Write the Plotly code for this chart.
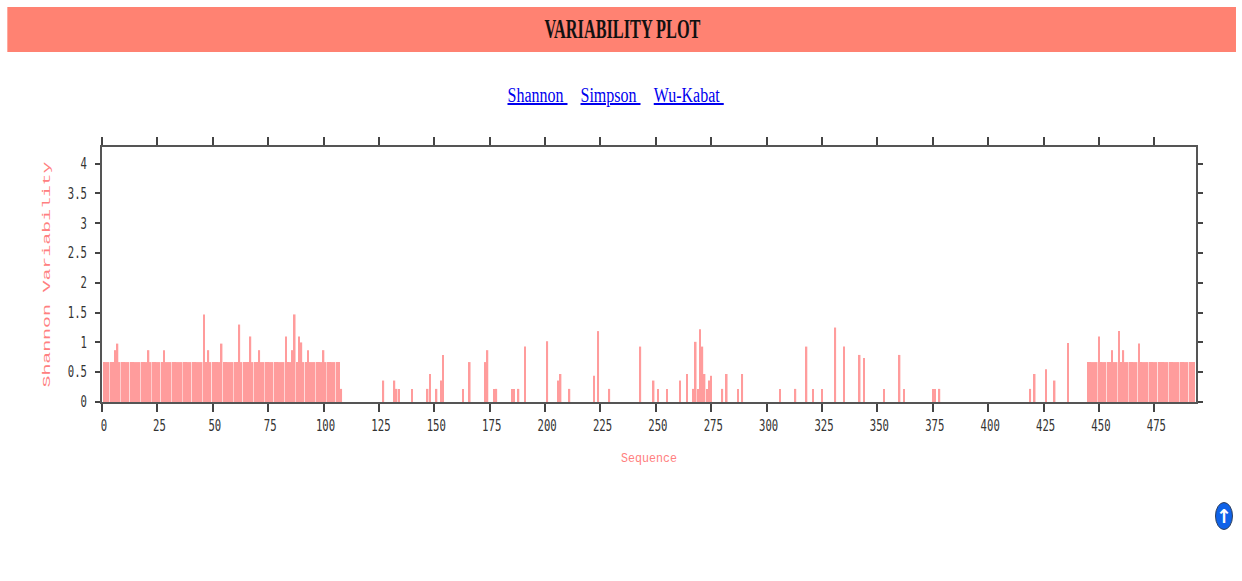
import plotly.graph_objects as go

W, H = 1242, 581
L, R, T, B = 101.7, 1196.0, 147.0, 402.0

sequence = [
    1, 2, 3, 4, 5, 6, 7, 8, 9, 10, 11, 12, 13, 14, 15, 16, 17, 18, 19, 20,
    21, 22, 23, 24, 25, 26, 27, 28, 29, 30, 31, 32, 33, 34, 35, 36, 37, 38, 39, 40,
    41, 42, 43, 44, 45, 46, 47, 48, 49, 50, 51, 52, 53, 54, 55, 56, 57, 58, 59, 60,
    61, 62, 63, 64, 65, 66, 67, 68, 69, 70, 71, 72, 73, 74, 75, 76, 77, 78, 79, 80,
    81, 82, 83, 84, 85, 86, 87, 88, 89, 90, 91, 92, 93, 94, 95, 96, 97, 98, 99, 100,
    101, 102, 103, 104, 105, 106, 107, 108,
    127, 132, 133, 134, 140, 147, 148, 151, 153, 154, 163, 166, 173, 174, 177, 178,
    185, 186, 188, 191, 201, 206, 207, 211, 222, 224, 229,
    243, 249, 251, 255, 261, 264, 267, 268, 269, 270, 271, 272, 273, 274, 275,
    280, 282, 287, 289, 306, 313, 318, 321, 325, 331, 335, 342, 344, 353, 360, 362,
    375, 376, 378, 419, 421, 426, 430, 436,
    445, 446, 447, 448, 449, 450, 451, 452, 453, 454, 455, 456, 457, 458, 459, 460,
    461, 462, 463, 464, 465, 466, 467, 468, 469, 470, 471, 472, 473, 474, 475, 476,
    477, 478, 479, 480, 481, 482, 483, 484, 485, 486, 487, 488, 489, 490, 491, 492, 493,
]
shannon = [
    .67, .67, .67, .67, .67, .87, .98, .67, .67, .67, .67, .67, .67, .67, .67, .67, .67, .67, .67, .67,
    .87, .67, .67, .67, .67, .67, .67, .87, .67, .67, .67, .67, .67, .67, .67, .67, .67, .67, .67, .67,
    .67, .67, .67, .67, .67, 1.47, .67, .87, .67, .67, .67, .67, .67, .98, .67, .67, .67, .67, .67, .67,
    .67, 1.3, .67, .67, .67, .67, 1.1, .67, .67, .67, .87, .67, .67, .67, .67, .67, .67, .67, .67, .67,
    .67, .67, 1.1, .67, .67, .87, 1.47, .67, 1.1, 1.0, .67, .67, .87, .67, .67, .67, .67, .67, .67, .87,
    .67, .67, .67, .67, .67, .67, .67, .22,
    .36, .36, .22, .22, .22, .22, .47, .22, .36, .79, .22, .67, .67, .87, .22, .22,
    .22, .22, .22, .93, 1.02, .36, .47, .22, .44, 1.19, .22,
    .93, .36, .22, .22, .36, .47, .22, 1.01, .22, 1.22, .93, .47, .22, .36, .44,
    .22, .47, .22, .47, .22, .22, .93, .22, .22, 1.25, .93, .79, .74, .22, .79, .22,
    .22, .22, .22, .22, .47, .55, .36, .99,
    .67, .67, .67, .67, .67, 1.1, .67, .67, .67, .67, .67, .87, .67, .67, 1.19, .67,
    .87, .67, .67, .67, .67, .67, .67, .98, .67, .67, .67, .67, .67, .67, .67, .67,
    .67, .67, .67, .67, .67, .67, .67, .67, .67, .67, .67, .67, .67, .67, .67, .67, .67,
]
x_ticks = [0, 25, 50, 75, 100, 125, 150, 175, 200, 225, 250, 275, 300, 325, 350, 375, 400, 425, 450, 475]
y_ticks = [0, 0.5, 1, 1.5, 2, 2.5, 3, 3.5, 4]
y_tick_text = ["0", "0.5", "1", "1.5", "2", "2.5", "3", "3.5", "4"]


def px(x):
    return (x - L) / (R - L)


def py(y):
    return (B - y) / (B - T)


fig = go.Figure(go.Bar(x=sequence, y=shannon, width=0.7, marker=dict(color="#ff9c9c", line=dict(width=0))))

SERIF = "Liberation Serif"
links = [("Shannon\u00a0", 537), ("Simpson\u00a0", 610), ("Wu-Kabat\u00a0", 689)]
common_ann = dict(xref="paper", yref="paper", showarrow=False, xanchor="center", yanchor="middle")
annotations = [
    dict(text="<b>VARIABILITY PLOT</b>", x=px(622), y=py(29),
         font=dict(family=SERIF, size=27, color="#111111"), **common_ann),
    dict(text="<b>\u2191</b>", x=px(1224), y=py(515.5),
         font=dict(family="DejaVu Sans", size=19, color="#ffffff"), **common_ann),
]
for name, cx in links:
    annotations.append(dict(
        text=f"<a href='#'><span style='color:#0000ee'><u>{name}</u></span></a>",
        x=px(cx), y=py(95), font=dict(family=SERIF, size=20, color="#0000ee"), **common_ann))

shapes = [
    dict(type="rect", xref="paper", yref="paper", x0=px(7), x1=px(1236), y0=py(7), y1=py(52),
         fillcolor="#ff8272", line_width=0, layer="below"),
    dict(type="circle", xref="paper", yref="paper", x0=px(1215.5), x1=px(1232.5), y0=py(502.5), y1=py(529.5),
         fillcolor="#0f62e8", line=dict(color="#30405c", width=1)),
]

axis_common = dict(showline=True, linecolor="#555555", linewidth=2, mirror="allticks", showgrid=False,
                   zeroline=False, ticks="outside", tickcolor="#444444", tickwidth=2,
                   tickfont=dict(family="DejaVu Sans Mono", size=15, color="#333333"))
fig.update_layout(
    width=W, height=H, autosize=False,
    margin=dict(l=L, r=W - R, t=T, b=H - B),
    plot_bgcolor="white", paper_bgcolor="white", showlegend=False,
    xaxis=dict(range=[0, 493.8], tickmode="array", tickvals=x_ticks, ticklen=8, ticklabelstandoff=1,
               ticklabelshift=2,
               title=dict(text="Sequence", standoff=20,
                          font=dict(family="Liberation Mono", size=12, color="#ff8080")),
               **axis_common),
    yaxis=dict(range=[0, 4.28], tickmode="array", tickvals=y_ticks, ticktext=y_tick_text, ticklen=5,
               ticklabelstandoff=5,
               title=dict(text="Shannon Variability", standoff=7,
                          font=dict(family="Liberation Mono", size=11, color="#ff8080")),
               **axis_common),
    annotations=annotations, shapes=shapes,
)

post = """
document.body.style.margin='0';
var lens={'VARIABILITY PLOT':156,'Shannon\\u00a0':60,'Simpson\\u00a0':60,'Wu-Kabat\\u00a0':70,'Shannon Variability':226,'Sequence':56};
document.querySelectorAll('svg text').forEach(function(t){
  var k=t.textContent; if(lens[k]){t.setAttribute('textLength',lens[k]);t.setAttribute('lengthAdjust','spacingAndGlyphs');}
});
document.querySelectorAll('.xtick text, .ytick text').forEach(function(t){
  t.setAttribute('textLength',t.textContent.length*6.4);t.setAttribute('lengthAdjust','spacingAndGlyphs');
});
"""
fig.write_html("out.html", post_script=post, config={"displayModeBar": False})
